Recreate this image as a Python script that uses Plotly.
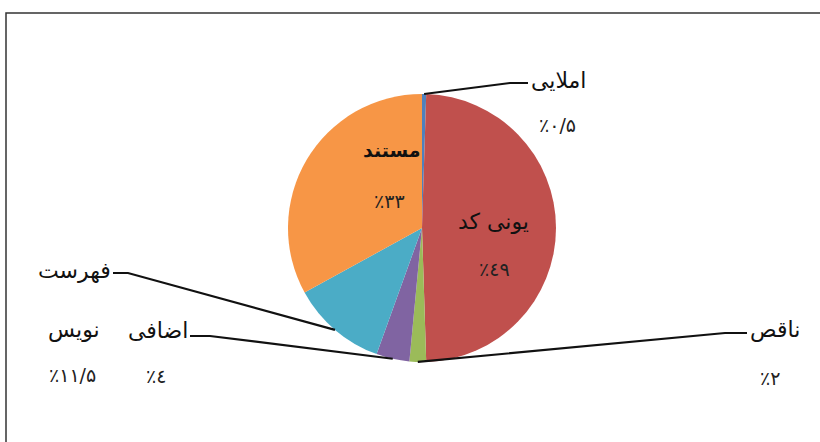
import math
import plotly.graph_objects as go

# ---- data ----
labels = ["املایی", "یونی کد", "ناقص", "اضافی", "فهرست نویس", "مستند"]
values = [0.5, 49, 2, 4, 11.5, 33]
colors = ["#4F81BD", "#C0504D", "#9BBB59", "#8064A2", "#4BACC6", "#F79646"]

W, H = 820, 442
CX, CY, R = 422, 228, 134

def fa_num(v):
    s = ("%g" % v).replace(".", "/")
    digits = {"0": "۰", "1": "۱", "2": "۲", "3": "۳", "4": "٤",
              "5": "۵", "6": "۶", "7": "۷", "8": "۸", "9": "۹"}
    return "٪" + "".join(digits.get(c, c) for c in s)

pct_text = [fa_num(v) for v in values]

def px(x):
    return x / W

def py(y):
    return 1 - y / H

# label placements (pixel coords): name position, percent position, line route
name_pos = [(558, 80), (493, 221), (775, 330), (158, 330), None, (392, 150)]
pct_pos = [(557, 125), (494, 269), (770, 378), (156, 376), (72, 375), (389, 201)]
routes = {0: [(510, 83), (528, 83)], 2: [(725, 333), (747, 333)],
          3: [(210, 336), (190, 336)], 4: [(128, 273), (113, 273)]}

fig = go.Figure(go.Pie(
    labels=labels, values=values, sort=False, direction="clockwise",
    rotation=0, marker=dict(colors=colors, line=dict(width=0)),
    textinfo="none", hoverinfo="none", showlegend=False,
    domain=dict(x=[px(CX - R), px(CX + R)], y=[py(CY + R), py(CY - R)]),
))

annotations = []
font = dict(family="DejaVu Sans", size=22, color="#111")
bfont = dict(family="DejaVu Sans", size=19, color="#111")
pfont = dict(family="DejaVu Sans", size=19, color="#222")

def ann(x, y, text, f):
    return dict(x=px(x), y=py(y), xref="paper", yref="paper", text=text,
                showarrow=False, font=f, xanchor="center", yanchor="middle")

for i, lab in enumerate(labels):
    if name_pos[i] is not None:
        if i == 5:
            annotations.append(ann(name_pos[i][0], name_pos[i][1], "<b>" + lab + "</b>", bfont))
        else:
            annotations.append(ann(name_pos[i][0], name_pos[i][1], lab, font))
    annotations.append(ann(pct_pos[i][0], pct_pos[i][1], pct_text[i], pfont))
# split label for فهرست نویس
parts = labels[4].split(" ")
annotations.append(ann(74, 270, parts[0], font))
annotations.append(ann(74, 330, parts[1], font))

shapes = []
# leader lines from slice mid angles
cum = 0
total = sum(values)
for i, v in enumerate(values):
    mid = (cum + v / 2) / total * 2 * math.pi
    cum += v
    if i not in routes:
        continue
    pts = [(CX + R * math.sin(mid), CY - R * math.cos(mid))] + routes[i]
    path = "M " + " L ".join("%f,%f" % (px(a), py(b)) for a, b in pts)
    shapes.append(dict(type="path", path=path, xref="paper", yref="paper",
                       line=dict(color="#111", width=2.2)))

# frame
shapes.append(dict(type="rect", xref="paper", yref="paper",
                   x0=px(6), y0=-0.1, x1=1.1, y1=py(13),
                   line=dict(color="#333", width=1.5)))

fig.update_layout(width=W, height=H, margin=dict(l=0, r=0, t=0, b=0),
                  paper_bgcolor="white", plot_bgcolor="white",
                  annotations=annotations, shapes=shapes)

fig.write_html("out.html", config={"displayModeBar": False},
               post_script="document.body.style.margin='0';document.body.style.overflow='hidden';")
